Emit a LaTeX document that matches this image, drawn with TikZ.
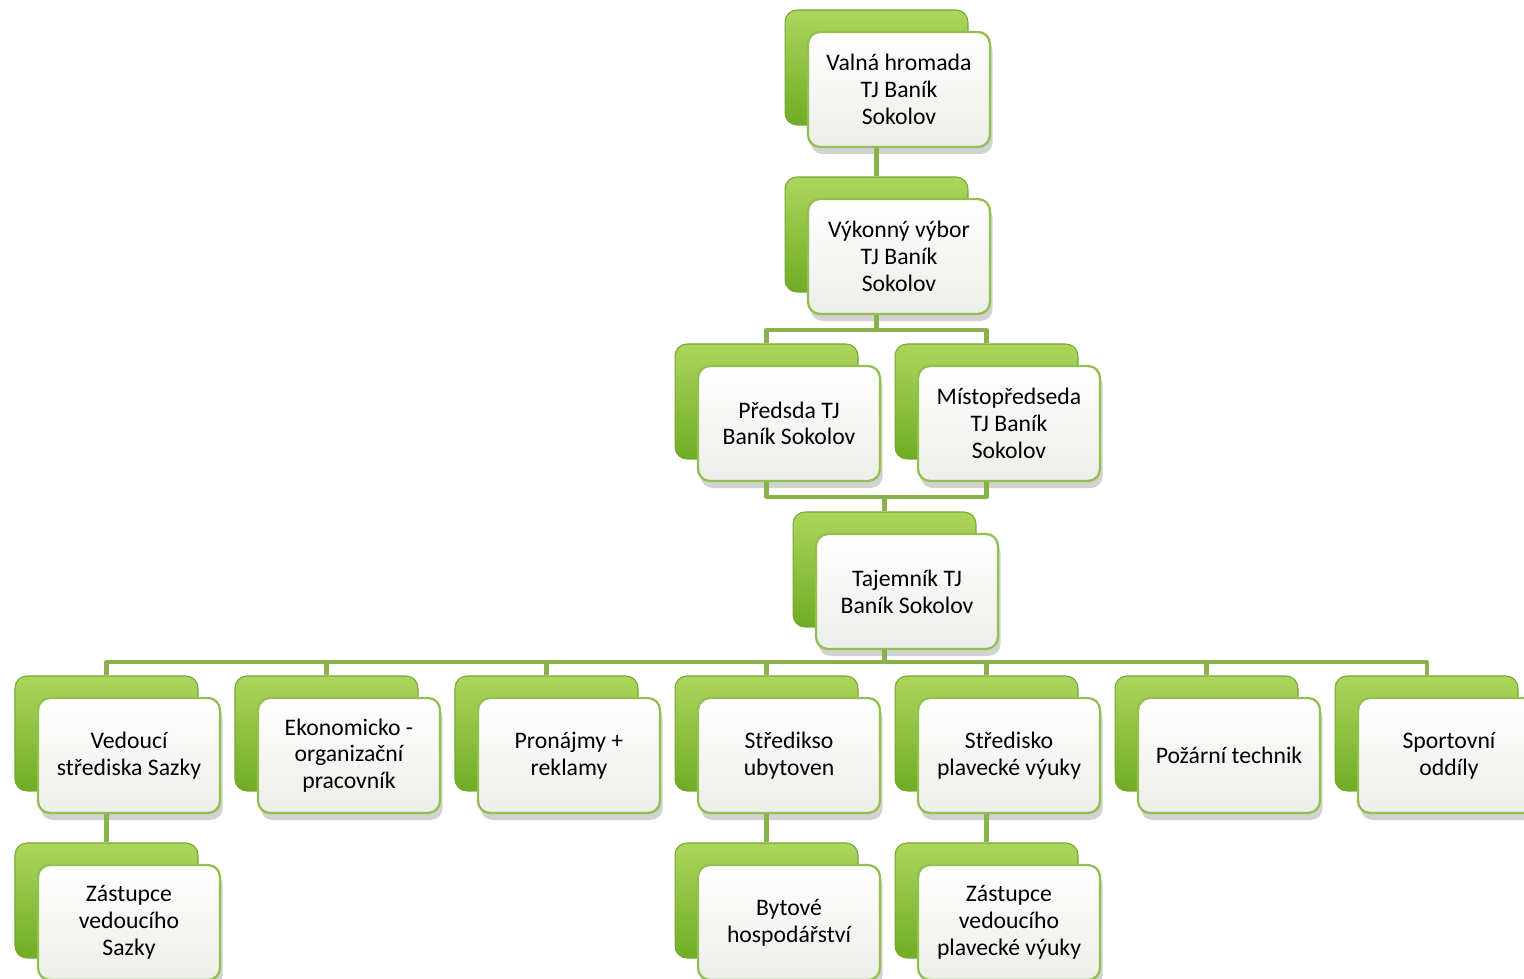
\documentclass[tikz,border=0pt]{standalone}
\usepackage{fontspec}
\setmainfont{Carlito}
\usetikzlibrary{shadows}
\definecolor{leafTop}{RGB}{172,214,92}
\definecolor{leafBot}{RGB}{112,172,36}
\definecolor{leafEdge}{RGB}{118,166,52}
\definecolor{cardEdge}{RGB}{146,192,80}
\definecolor{cardBot}{RGB}{236,238,233}
\definecolor{stem}{RGB}{138,178,76}

\tikzset{
  backbox/.style={draw=leafEdge,line width=0.6pt,rounded corners=0.24cm,
    top color=leafTop,bottom color=leafBot,
    minimum width=3.66cm,minimum height=2.30cm,inner sep=0pt},
  frontbox/.style={draw=cardEdge,line width=1.3pt,rounded corners=0.24cm,
    top color=white,bottom color=cardBot,
    drop shadow={shadow xshift=1.5pt,shadow yshift=-4pt,opacity=0.25,fill=black!70},
    minimum width=3.64cm,minimum height=2.30cm,inner sep=0pt,align=center,
    font=\fontsize{13.5pt}{15.2pt}\selectfont},
  link/.style={stem,line width=2.3pt,line join=round}
}

\begin{document}
\begin{tikzpicture}[x=0.02cm,y=-0.02cm]
\useasboundingbox (0,0) rectangle (1524,979);
% top of the tree
\node[backbox] (valnab) at (876.5,67.5) {};
\node[frontbox] (valna) at (899,89.5) {Valná hromada\\TJ Baník\\Sokolov};
\node[backbox] (vyborb) at (876.5,234.5) {};
\node[frontbox] (vybor) at (899,256.5) {Výkonný výbor\\TJ Baník\\Sokolov};
\node[backbox] (predsedab) at (766.5,401.5) {};
\node[frontbox] (predseda) at (789,423.5) {Předsda TJ\\Baník Sokolov};
\node[backbox] (mistob) at (986.5,401.5) {};
\node[frontbox] (misto) at (1009,423.5) {Místopředseda\\TJ Baník\\Sokolov};
\node[backbox] (tajemnikb) at (884.5,569.5) {};
\node[frontbox] (tajemnik) at (907,591.5) {Tajemník TJ\\Baník Sokolov};
% row of departments
\node[backbox] (sazkyb) at (106.5,733.5) {};
\node[frontbox] (sazky) at (129,755.5) {Vedoucí\\střediska Sazky};
\node[backbox] (ekonomb) at (326.5,733.5) {};
\node[frontbox] (ekonom) at (349,755.5) {Ekonomicko -\\organizační\\pracovník};
\node[backbox] (pronajmyb) at (546.5,733.5) {};
\node[frontbox] (pronajmy) at (569,755.5) {Pronájmy +\\reklamy};
\node[backbox] (ubytb) at (766.5,733.5) {};
\node[frontbox] (ubyt) at (789,755.5) {Středikso\\ubytoven};
\node[backbox] (plavanib) at (986.5,733.5) {};
\node[frontbox] (plavani) at (1009,755.5) {Středisko\\plavecké výuky};
\node[backbox] (pozarb) at (1206.5,733.5) {};
\node[frontbox] (pozar) at (1229,755.5) {Požární technik};
\node[backbox] (sportb) at (1426.5,733.5) {};
\node[frontbox] (sport) at (1449,755.5) {Sportovní\\oddíly};
% bottom row
\node[backbox] (zastsazkyb) at (106.5,900.5) {};
\node[frontbox] (zastsazky) at (129,922.5) {Zástupce\\vedoucího\\Sazky};
\node[backbox] (bytyb) at (766.5,900.5) {};
\node[frontbox] (byty) at (789,922.5) {Bytové\\hospodářství};
\node[backbox] (zastplavb) at (986.5,900.5) {};
\node[frontbox] (zastplav) at (1009,922.5) {Zástupce\\vedoucího\\plavecké výuky};
% connectors
\coordinate (bus1) at (876.5,330);
\coordinate (bus2) at (884.5,497);
\coordinate (bus3) at (884.5,662);
\draw[link] (valnab |- valna.south) -- (vyborb.north);
\draw[link] (vyborb |- vybor.south) -- (bus1);
\draw[link] (predsedab.north) |- (bus1) -| (mistob.north);
\draw[link] (predsedab |- predseda.south) |- (bus2) -| (mistob |- misto.south);
\draw[link] (bus2) -- (tajemnikb.north);
\draw[link] (tajemnikb |- tajemnik.south) -- (bus3);
\draw[link] (sazkyb.north) |- (bus3) -| (sportb.north);
\draw[link] (ekonomb.north) -- (ekonomb.north |- bus3);
\draw[link] (pronajmyb.north) -- (pronajmyb.north |- bus3);
\draw[link] (ubytb.north) -- (ubytb.north |- bus3);
\draw[link] (plavanib.north) -- (plavanib.north |- bus3);
\draw[link] (pozarb.north) -- (pozarb.north |- bus3);
\draw[link] (sazkyb |- sazky.south) -- (zastsazkyb.north);
\draw[link] (ubytb |- ubyt.south) -- (bytyb.north);
\draw[link] (plavanib |- plavani.south) -- (zastplavb.north);
\end{tikzpicture}
\end{document}
